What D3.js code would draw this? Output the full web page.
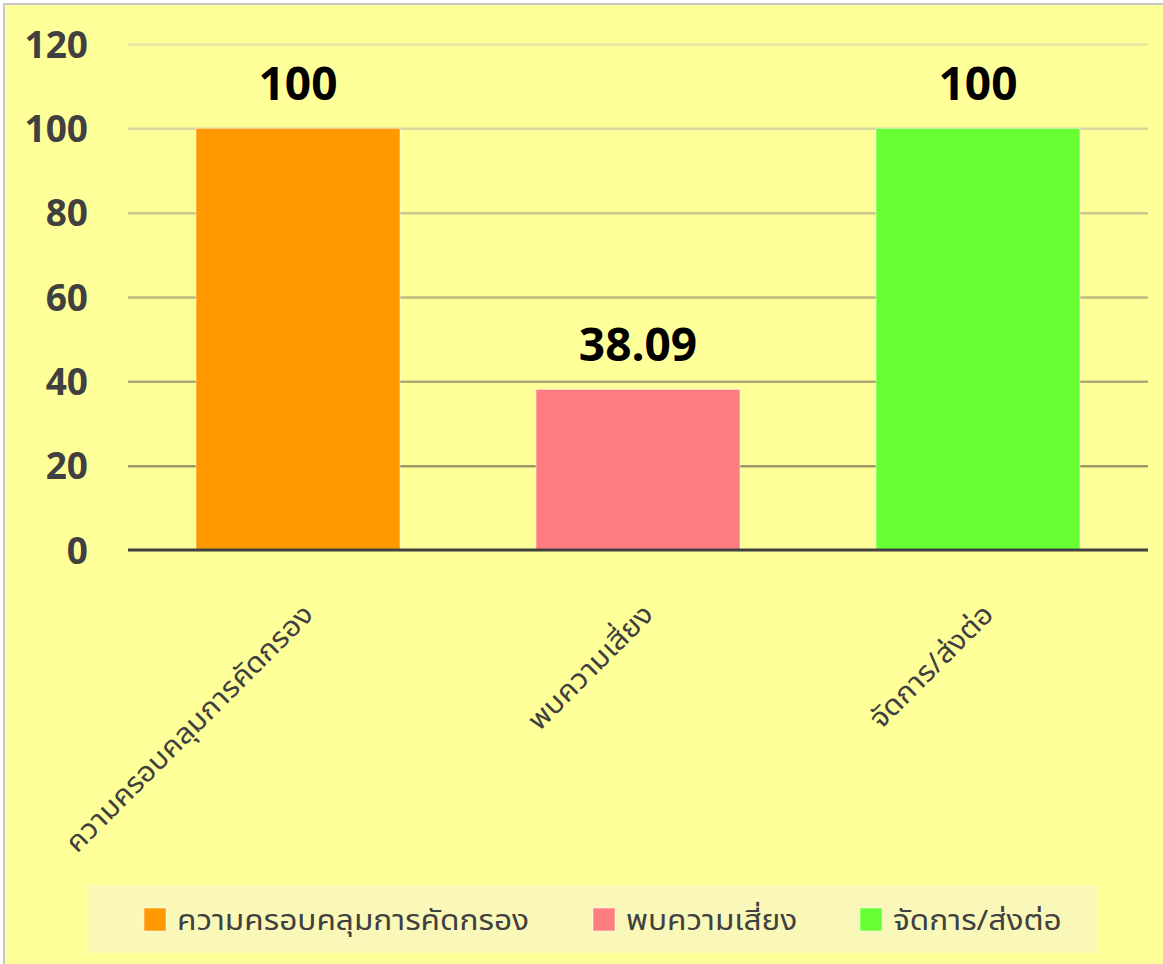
<!DOCTYPE html>
<html><head><meta charset="utf-8">
<script src="https://cdn.jsdelivr.net/npm/d3@7"></script>
<style>
html,body{margin:0;padding:0;background:#fff;}
svg{display:block;}
</style></head>
<body><svg id="c" width="1163" height="964"></svg>
<script>
const categories = ["ความครอบคลุมการคัดกรอง", "พบความเสี่ยง", "จัดการ/ส่งต่อ"];
const values = [100, 38.09, 100];
const valueLabels = ["100", "38.09", "100"];
const colors = ["#FF9900", "#FF7C80", "#66FF33"];
const yTicks = [0, 20, 40, 60, 80, 100, 120];

const svg = d3.select("#c");
const W = 1163, H = 964;
const x0 = 128, x1 = 1148, y0 = 550, y1 = 44;
const thaiFont = "Tahoma, 'Noto Sans Thai', 'Noto Sans', sans-serif";

svg.append("rect").attr("x",4).attr("y",4).attr("width",W).attr("height",H)
  .attr("fill","#FFFF9A").attr("stroke","#C8C8C8").attr("stroke-width",2);

const x = d3.scaleBand().domain(categories).range([x0,x1]).paddingInner(0.4).paddingOuter(0.2);
const y = d3.scaleLinear().domain([0,120]).range([y0,y1]);
const gridColor = d3.scaleLinear().domain([20,120]).range(["#9E9A68","#E8E4A8"]);

// gridlines
svg.append("g").attr("transform",`translate(${x0},0)`)
  .call(d3.axisLeft(y).tickValues(yTicks.filter(d=>d>0)).tickSize(-(x1-x0)).tickFormat(""))
  .call(g=>g.select(".domain").remove())
  .call(g=>g.selectAll("line").attr("stroke",d=>gridColor(d)).attr("stroke-width",2.5));

// y labels
svg.append("g").attr("transform",`translate(${x0},0)`)
  .call(d3.axisLeft(y).tickValues(yTicks).tickSize(0).tickPadding(40))
  .call(g=>g.select(".domain").remove())
  .call(g=>g.selectAll("text").attr("font-family","'Open Sans', sans-serif")
     .attr("font-weight","bold").attr("font-size",37).attr("fill","#404040").attr("dy","0.36em"));

// bars
svg.append("g").selectAll("rect").data(categories).join("rect")
  .attr("x",d=>x(d)).attr("width",x.bandwidth())
  .attr("y",(d,i)=>y(values[i])).attr("height",(d,i)=>y(0)-y(values[i]))
  .attr("fill",(d,i)=>colors[i]).attr("stroke","#ffffff").attr("stroke-opacity",0.5).attr("stroke-width",1);

// value labels
svg.append("g").selectAll("text").data(categories).join("text")
  .attr("x",d=>x(d)+x.bandwidth()/2).attr("y",(d,i)=>y(values[i])-28)
  .attr("text-anchor","middle").attr("font-family","'Open Sans', sans-serif")
  .attr("font-weight","bold").attr("font-size",46).attr("fill","#000")
  .text((d,i)=>valueLabels[i]);

// x axis
svg.append("g").attr("transform",`translate(0,${y0})`)
  .call(d3.axisBottom(x).tickSize(0).tickPadding(0))
  .call(g=>g.select(".domain").attr("stroke","#404040").attr("stroke-width",3).attr("d",`M${x0},0H${x1}`))
  .call(g=>g.selectAll("text").attr("font-family",thaiFont)
     .attr("font-size",28).attr("fill","#404040")
     .attr("text-anchor","end").attr("dy",null).attr("y",0).attr("x",0)
     .attr("transform","translate(17,66) rotate(-45)")
     .each(function(){
        const L=this.getComputedTextLength()*1.08;
        d3.select(this).attr("textLength",L).attr("lengthAdjust","spacingAndGlyphs");
     }));

// legend
const lg = svg.append("g");
lg.append("rect").attr("x",88).attr("y",885).attr("width",1009).attr("height",68).attr("fill","#FAF8B8");
const legX = [144, 593, 860];
categories.forEach((c,i)=>{
  lg.append("rect").attr("x",legX[i]).attr("y",908).attr("width",22).attr("height",23)
    .attr("fill",colors[i]).attr("stroke","#ffffff").attr("stroke-opacity",0.5);
  const t = lg.append("text").attr("x",legX[i]+33).attr("y",930)
    .attr("font-family",thaiFont).attr("font-size",28)
    .attr("fill","#404040").text(c);
  const L = t.node().getComputedTextLength();
  t.attr("textLength",L*1.13).attr("lengthAdjust","spacingAndGlyphs");
});
</script></body></html>
